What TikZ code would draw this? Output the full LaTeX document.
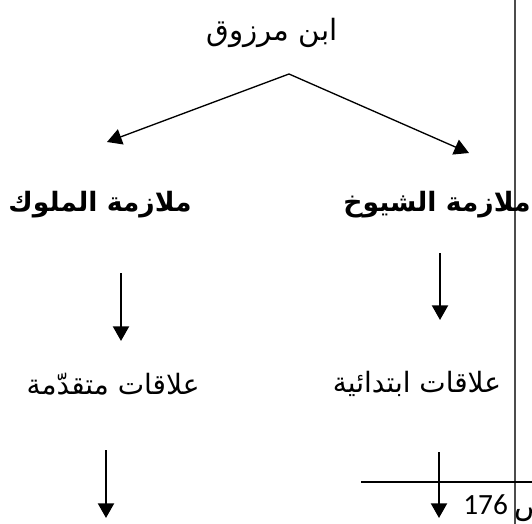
\documentclass[tikz,border=0pt]{standalone}
\usepackage{fontspec}
\usetikzlibrary{arrows.meta}
\TeXXeTstate=1
\newfontfamily\arabicfont[Script=Arabic]{DejaVu Sans}
\newfontfamily\numfont{Carlito}
\tikzset{
  arr/.style={line width=1.6pt,-{Triangle[width=12pt,length=11pt]}},
  slant/.style={line width=1pt,-{Triangle[width=12pt,length=11pt]}},
  thinline/.style={line width=0.9pt},
  lbl/.style={inner sep=0pt,font=\arabicfont\fontsize{21}{24}\selectfont},
  tlbl/.style={inner sep=0pt,font=\arabicfont\fontsize{22}{25}\selectfont},
  blbl/.style={inner sep=0pt,font=\arabicfont\bfseries\fontsize{20}{24}\selectfont},
}
\begin{document}
\begin{tikzpicture}[x=0.75pt,y=-0.75pt]
\useasboundingbox (0,0) rectangle (532,524);
\fill[white] (0,0) rectangle (532,524);
% page edge line
\draw[line width=0.8pt,black!70] (515,0) -- (515,524);
% title
\node[tlbl] (title) at (272,33) {\beginR ابن مرزوق\endR};
\coordinate (apex) at (289,74);
\coordinate (ltip) at (107,142);
\coordinate (rtip) at (469,153);
\draw[slant] (apex) -- (ltip);
\draw[slant] (apex) -- (rtip);
% middle row
\node[blbl] (kings) at (100,205) {\beginR ملازمة الملوك\endR};
\node[blbl] (shaykhs) at (437,205) {\beginR ملازمة الشيوخ\endR};
% down arrows
\coordinate (la1) at (121,273);
\coordinate (la2) at (121,341);
\coordinate (ra1) at (440,253);
\coordinate (ra2) at (440,320);
\draw[arr] (la1) -- (la2);
\draw[arr] (ra1) -- (ra2);
% third row
\node[lbl] (adv) at (113,384) {\beginR علاقات متقدّمة\endR};
\node[lbl] (prim) at (417,384) {\beginR علاقات ابتدائية\endR};
% bottom arrows
\coordinate (lb1) at (106,450);
\coordinate (lb2) at (106,518);
\coordinate (rb1) at (439,452);
\coordinate (rb2) at (439,518);
\draw[arr] (lb1) -- (lb2);
\draw[arr] (rb1) -- (rb2);
% footnote line and page ref
\coordinate (fl1) at (361,482);
\coordinate (fl2) at (532,482);
\draw[thinline] (fl1) -- (fl2);
\node[inner sep=0pt,anchor=west] (pref) at (463,508) {\numfont\fontsize{22}{25}\selectfont 176 \arabicfont\beginR ص\endR};
\end{tikzpicture}
\end{document}
